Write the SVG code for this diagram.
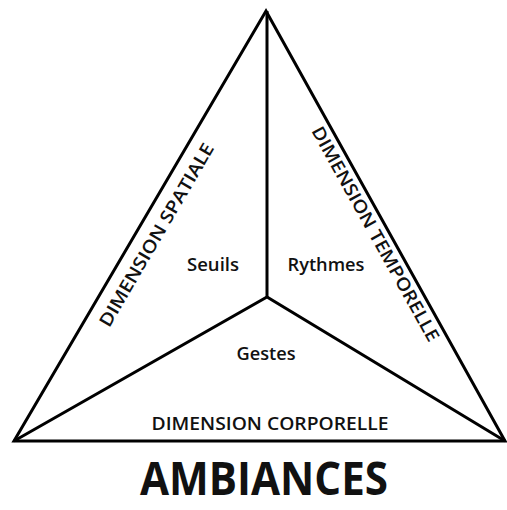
<svg xmlns="http://www.w3.org/2000/svg" width="507" height="510" viewBox="0 0 507 510">
<style>
.ln{stroke:#000;stroke-width:3;fill:none;stroke-linejoin:miter}
text{font-family:"Open Sans","Liberation Sans",sans-serif;fill:#111;text-anchor:middle}
.lab{font-size:18px;font-weight:600}
.dim{font-size:18px;font-weight:600}
.title{font-size:47px;font-weight:700}
</style>
<rect width="507" height="510" fill="#fff"/>
<g id="connectors">
<polygon class="ln" points="266,11 505,441 14,441"/>
<polyline class="ln" points="267,11 267,297"/>
<polyline class="ln" points="14,441 267,297 505,441"/>
</g>
<g id="node-seuils"><text class="lab" x="213" y="271" textLength="52" lengthAdjust="spacingAndGlyphs">Seuils</text></g>
<g id="node-rythmes"><text class="lab" x="326" y="271" textLength="77" lengthAdjust="spacingAndGlyphs">Rythmes</text></g>
<g id="node-gestes"><text class="lab" x="266" y="360" textLength="59" lengthAdjust="spacingAndGlyphs">Gestes</text></g>
<g id="dim-spatiale"><text class="dim" transform="translate(162,238) rotate(-59.7)" textLength="209" lengthAdjust="spacingAndGlyphs">DIMENSION SPATIALE</text></g>
<g id="dim-temporelle"><text class="dim" transform="translate(370,237) rotate(60.9)" textLength="243" lengthAdjust="spacingAndGlyphs">DIMENSION TEMPORELLE</text></g>
<g id="dim-corporelle"><text class="dim" x="270" y="430" textLength="237" lengthAdjust="spacingAndGlyphs">DIMENSION CORPORELLE</text></g>
<g id="title"><text class="title" x="264" y="495" textLength="248" lengthAdjust="spacingAndGlyphs">AMBIANCES</text></g>
</svg>
